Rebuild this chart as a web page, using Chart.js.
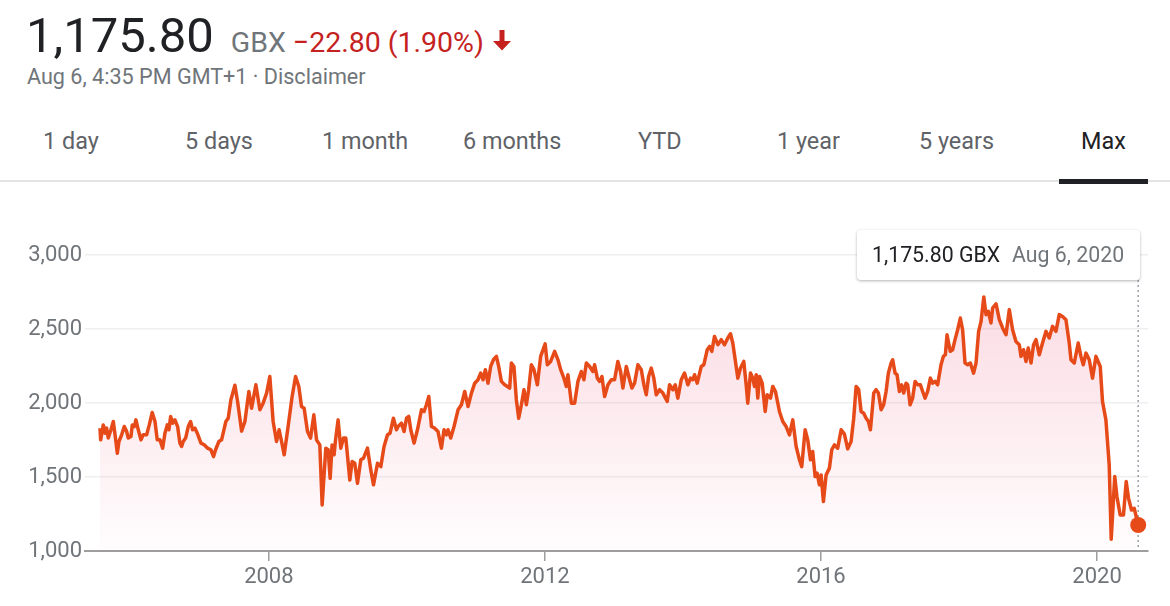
<!DOCTYPE html>
<html>
<head>
<meta charset="utf-8">
<script src="https://cdn.jsdelivr.net/npm/chart.js@4.4.0/dist/chart.umd.min.js"></script>
<style>
  body { margin: 0; width: 1170px; height: 606px; background: #fff; font-family: Roboto, Arial, sans-serif; position: relative; overflow: hidden; }
  .quote { position: absolute; left: 26px; top: 12px; display: flex; align-items: baseline; white-space: nowrap; }
  .quote .big { font-size: 49px; line-height: 48px; color: #202124; }
  .quote .unit { font-size: 28.5px; color: #70757a; margin-left: 17px; }
  .quote .chg { font-size: 28.5px; color: #c5221f; margin-left: 7px; }
  .quote svg { margin-left: 7px; align-self: center; margin-top: 8px; }
  .sub { position: absolute; left: 27px; top: 65px; font-size: 21.6px; line-height: 24px; color: #70757a; white-space: nowrap; }
  .tab { position: absolute; top: 127px; font-size: 23.4px; line-height: 28px; color: #5f6368; white-space: nowrap; }
  .tab.on { color: #202124; }
  .sep { position: absolute; left: 0; top: 180px; width: 1170px; height: 2px; background: #e3e3e3; }
  .bar { position: absolute; left: 1059px; top: 179px; width: 89px; height: 5px; background: #202124; }
  .wrap { position: absolute; left: 0; top: 190px; width: 1170px; height: 416px; }
  .tip { position: absolute; left: 857px; top: 230px; width: 283px; height: 50px; background: #fff; border-radius: 4px;
         box-shadow: 0 1px 3px rgba(0,0,0,0.3); box-sizing: border-box; padding-left: 15px; font-size: 21.3px; line-height: 50px; white-space: nowrap; }
  .tip .v { color: #202124; }
  .tip .d { color: #70757a; margin-left: 12px; }
</style>
</head>
<body>
<div class="quote">
  <span class="big">1,175.80</span><span class="unit">GBX</span><span class="chg">−22.80 (1.90%)</span>
  <svg width="22" height="24" viewBox="0 0 22 24"><path fill="#c5221f" d="M8.5 2h5v11h6.5l-9 9.5l-9-9.5h6.5z"/></svg>
</div>
<div class="sub">Aug 6, 4:35 PM GMT+1 · Disclaimer</div>

<span class="tab" style="left:43px">1 day</span>
<span class="tab" style="left:185px">5 days</span>
<span class="tab" style="left:322px">1 month</span>
<span class="tab" style="left:463px">6 months</span>
<span class="tab" style="left:638px">YTD</span>
<span class="tab" style="left:777px">1 year</span>
<span class="tab" style="left:919px">5 years</span>
<span class="tab on" style="left:1081px">Max</span>
<div class="sep"></div>
<div class="bar"></div>

<div class="wrap"><canvas id="priceChart" width="1170" height="416"></canvas></div>
<div class="tip"><span class="v">1,175.80 GBX</span><span class="d">Aug 6, 2020</span></div>

<script>
// dates as decimal years, prices in GBX
const dates = [
  2005.553, 2005.563, 2005.601, 2005.626, 2005.650, 2005.673, 2005.712, 2005.746, 2005.781, 2005.804,
  2005.828, 2005.867, 2005.905, 2005.940, 2005.963, 2006.002, 2006.021, 2006.050, 2006.074, 2006.108,
  2006.147, 2006.180, 2006.229, 2006.267, 2006.310, 2006.350, 2006.383, 2006.422, 2006.461, 2006.494,
  2006.528, 2006.552, 2006.577, 2006.606, 2006.639, 2006.678, 2006.711, 2006.736, 2006.759, 2006.794,
  2006.832, 2006.866, 2006.895, 2006.929, 2006.968, 2007.016, 2007.063, 2007.113, 2007.160, 2007.199,
  2007.228, 2007.276, 2007.315, 2007.349, 2007.377, 2007.411, 2007.450, 2007.508, 2007.547, 2007.605,
  2007.653, 2007.710, 2007.750, 2007.812, 2007.870, 2007.917, 2007.967, 2008.014, 2008.062, 2008.111,
  2008.149, 2008.184, 2008.222, 2008.279, 2008.337, 2008.387, 2008.434, 2008.473, 2008.511, 2008.560,
  2008.604, 2008.652, 2008.691, 2008.738, 2008.772, 2008.825, 2008.859, 2008.888, 2008.916, 2008.945,
  2008.966, 2009.003, 2009.042, 2009.082, 2009.115, 2009.173, 2009.206, 2009.245, 2009.284, 2009.332,
  2009.371, 2009.429, 2009.477, 2009.516, 2009.574, 2009.622, 2009.669, 2009.719, 2009.756, 2009.805,
  2009.849, 2009.872, 2009.921, 2009.959, 2009.994, 2010.027, 2010.056, 2010.104, 2010.153, 2010.211,
  2010.248, 2010.283, 2010.317, 2010.356, 2010.403, 2010.451, 2010.500, 2010.538, 2010.573, 2010.596,
  2010.635, 2010.683, 2010.741, 2010.790, 2010.838, 2010.886, 2010.935, 2010.983, 2011.030, 2011.069,
  2011.103, 2011.137, 2011.175, 2011.214, 2011.253, 2011.297, 2011.330, 2011.369, 2011.417, 2011.489,
  2011.514, 2011.551, 2011.586, 2011.620, 2011.659, 2011.696, 2011.731, 2011.764, 2011.803, 2011.841,
  2011.890, 2011.938, 2012.003, 2012.035, 2012.083, 2012.141, 2012.189, 2012.228, 2012.275, 2012.310,
  2012.333, 2012.383, 2012.430, 2012.478, 2012.527, 2012.565, 2012.600, 2012.648, 2012.695, 2012.720,
  2012.759, 2012.792, 2012.826, 2012.865, 2012.913, 2012.962, 2013.009, 2013.057, 2013.096, 2013.130,
  2013.179, 2013.227, 2013.260, 2013.299, 2013.347, 2013.396, 2013.434, 2013.468, 2013.502, 2013.541,
  2013.578, 2013.613, 2013.661, 2013.709, 2013.772, 2013.806, 2013.854, 2013.888, 2013.926, 2013.975,
  2014.023, 2014.071, 2014.110, 2014.143, 2014.168, 2014.207, 2014.265, 2014.302, 2014.352, 2014.385,
  2014.418, 2014.457, 2014.505, 2014.554, 2014.602, 2014.650, 2014.689, 2014.722, 2014.757, 2014.795,
  2014.834, 2014.881, 2014.916, 2014.939, 2014.978, 2015.012, 2015.036, 2015.061, 2015.084, 2015.109,
  2015.148, 2015.191, 2015.220, 2015.268, 2015.301, 2015.340, 2015.398, 2015.446, 2015.495, 2015.543,
  2015.591, 2015.640, 2015.688, 2015.721, 2015.770, 2015.808, 2015.847, 2015.880, 2015.915, 2015.944,
  2015.977, 2016.002, 2016.035, 2016.074, 2016.122, 2016.156, 2016.195, 2016.242, 2016.292, 2016.339,
  2016.387, 2016.436, 2016.474, 2016.509, 2016.546, 2016.581, 2016.619, 2016.654, 2016.687, 2016.716,
  2016.764, 2016.798, 2016.832, 2016.871, 2016.908, 2016.943, 2016.976, 2017.016, 2017.039, 2017.073,
  2017.102, 2017.136, 2017.169, 2017.198, 2017.233, 2017.256, 2017.291, 2017.328, 2017.363, 2017.401,
  2017.440, 2017.473, 2017.508, 2017.545, 2017.585, 2017.618, 2017.653, 2017.690, 2017.739, 2017.773,
  2017.802, 2017.826, 2017.849, 2017.874, 2017.907, 2017.942, 2017.980, 2018.019, 2018.052, 2018.087,
  2018.125, 2018.164, 2018.211, 2018.246, 2018.284, 2018.319, 2018.359, 2018.391, 2018.424, 2018.463,
  2018.487, 2018.536, 2018.584, 2018.631, 2018.681, 2018.728, 2018.776, 2018.825, 2018.873, 2018.898,
  2018.935, 2018.970, 2019.003, 2019.043, 2019.080, 2019.115, 2019.163, 2019.210, 2019.260, 2019.307,
  2019.355, 2019.404, 2019.452, 2019.500, 2019.549, 2019.597, 2019.622, 2019.669, 2019.727, 2019.766,
  2019.800, 2019.839, 2019.887, 2019.934, 2019.984, 2020.046, 2020.079, 2020.128, 2020.176, 2020.205,
  2020.256, 2020.288, 2020.335, 2020.383, 2020.422, 2020.456, 2020.499, 2020.538, 2020.596
];
const prices = [
  1830, 1751, 1852, 1796, 1830, 1763, 1819, 1875, 1751, 1661,
  1740, 1785, 1841, 1807, 1763, 1774, 1852, 1841, 1886, 1819,
  1751, 1785, 1785, 1852, 1936, 1875, 1751, 1751, 1695, 1796,
  1852, 1819, 1909, 1864, 1886, 1841, 1729, 1706, 1740, 1763,
  1841, 1875, 1819, 1830, 1790, 1729, 1718, 1695, 1684, 1638,
  1684, 1740, 1751, 1819, 1875, 1897, 2022, 2120, 2010, 1810,
  1875, 2078, 1965, 2123, 1954, 1999, 2067, 2179, 1875, 1740,
  1819, 1740, 1650, 1841, 2044, 2179, 2112, 1976, 1965, 1807,
  1763, 1920, 1751, 1717, 1311, 1695, 1684, 1491, 1717, 1650,
  1751, 1886, 1695, 1763, 1763, 1480, 1604, 1593, 1458, 1616,
  1627, 1695, 1548, 1447, 1593, 1570, 1706, 1785, 1796, 1897,
  1819, 1841, 1864, 1807, 1897, 1909, 1819, 1729, 1819, 1954,
  1943, 1988, 2044, 1841, 1830, 1807, 1695, 1819, 1785, 1819,
  1763, 1841, 1954, 1988, 2078, 1976, 2067, 2134, 2157, 2202,
  2157, 2225, 2134, 2247, 2292, 2315, 2247, 2146, 2123, 2101,
  2270, 2247, 2022, 1897, 1988, 2090, 1988, 2090, 2258, 2225,
  2123, 2315, 2400, 2258, 2281, 2349, 2292, 2225, 2168, 2112,
  2191, 1999, 1999, 2146, 2213, 2157, 2270, 2247, 2213, 2258,
  2168, 2146, 2179, 2044, 2123, 2157, 2157, 2281, 2213, 2101,
  2247, 2157, 2101, 2134, 2258, 2225, 2123, 2056, 2179, 2236,
  2168, 2056, 2090, 2067, 2010, 2123, 2090, 2123, 2033, 2157,
  2202, 2123, 2168, 2157, 2191, 2134, 2247, 2258, 2360, 2382,
  2349, 2450, 2394, 2428, 2394, 2439, 2468, 2405, 2292, 2168,
  2236, 2281, 2123, 1999, 2202, 2168, 2112, 2191, 2033, 2179,
  2134, 1943, 2056, 2033, 2112, 2078, 1943, 1875, 1841, 1785,
  1886, 1706, 1616, 1570, 1819, 1751, 1616, 1672, 1503, 1526,
  1447, 1514, 1334, 1514, 1560, 1684, 1717, 1695, 1819, 1790,
  1690, 1740, 1897, 2112, 2090, 1943, 1931, 1897, 1875, 1819,
  2067, 2090, 2067, 1954, 1988, 2078, 2202, 2270, 2292, 2202,
  2191, 2078, 2123, 2067, 2134, 2123, 1988, 2033, 2146, 2123,
  2123, 2078, 2033, 2078, 2168, 2134, 2146, 2123, 2258, 2315,
  2326, 2461, 2405, 2349, 2360, 2428, 2495, 2574, 2495, 2270,
  2258, 2270, 2202, 2270, 2484, 2551, 2716, 2597, 2620, 2541,
  2642, 2670, 2563, 2507, 2461, 2631, 2495, 2416, 2394, 2315,
  2360, 2281, 2371, 2270, 2394, 2428, 2326, 2405, 2484, 2439,
  2518, 2484, 2597, 2585, 2563, 2405, 2292, 2270, 2405, 2315,
  2258, 2337, 2292, 2168, 2315, 2247, 2010, 1886, 1580, 1080,
  1503, 1367, 1244, 1244, 1469, 1356, 1277, 1289, 1175.8
];
const yearTicks = [2008, 2012, 2016, 2020];
const priceTicks = [1000, 1500, 2000, 2500, 3000];

const lineColor = "#e64a19";
const lastIndex = prices.length - 1;

// dotted marker line through the last point, drawn under the line and dot
const markerLine = {
  id: "markerLine",
  beforeDatasetsDraw(chart) {
    const ctx = chart.ctx;
    const x = chart.scales.x.getPixelForValue(dates[lastIndex]);
    ctx.save();
    ctx.strokeStyle = "#9aa0a6";
    ctx.lineWidth = 1.5;
    ctx.setLineDash([2, 3]);
    ctx.beginPath();
    ctx.moveTo(x, 90);
    ctx.lineTo(x, chart.chartArea.bottom);
    ctx.stroke();
    ctx.restore();
  },
};

new Chart(document.getElementById("priceChart"), {
  type: "line",
  data: {
    datasets: [
      {
        data: dates.map((d, i) => ({ x: d, y: prices[i] })),
        borderColor: lineColor,
        borderWidth: 3.5,
        borderJoinStyle: "round",
        tension: 0,
        fill: "start",
        backgroundColor: (c) => {
          const area = c.chart.chartArea;
          if (!area) return "rgba(0,0,0,0)";
          const g = c.chart.ctx.createLinearGradient(0, area.top, 0, area.bottom);
          g.addColorStop(0, "rgba(232, 70, 110, 0.22)");
          g.addColorStop(1, "rgba(232, 70, 110, 0.01)");
          return g;
        },
        pointRadius: (c) => (c.dataIndex === lastIndex ? 8 : 0),
        pointBackgroundColor: lineColor,
        pointBorderWidth: 0,
        pointHoverRadius: 0,
      },
    ],
  },
  options: {
    responsive: false,
    animation: false,
    events: [],
    layout: { padding: { top: 65, right: 22, left: 0, bottom: 0 } },
    plugins: { legend: { display: false }, tooltip: { enabled: false } },
    scales: {
      x: {
        type: "linear",
        min: 2005.336,
        max: 2020.738,
        afterBuildTicks: (s) => { s.ticks = yearTicks.map((v) => ({ value: v })); },
        afterFit: (s) => { s.height = 55; },
        ticks: {
          callback: (v) => String(v),
          color: "#70757a",
          font: { family: "Roboto", size: 22 },
          padding: 3,
          maxRotation: 0,
        },
        grid: { drawOnChartArea: false, drawTicks: true, tickLength: 10, color: "#9e9e9e", lineWidth: 1.5 },
        border: { color: "#9e9e9e", width: 2 },
      },
      y: {
        min: 1000,
        max: 3000,
        afterBuildTicks: (s) => { s.ticks = priceTicks.map((v) => ({ value: v })); },
        afterFit: (s) => { s.width = 85; },
        ticks: {
          callback: (v) => v.toLocaleString("en-US"),
          color: "#70757a",
          font: { family: "Roboto", size: 22 },
          padding: 3,
        },
        grid: { color: "#efefef", lineWidth: 1.5, drawTicks: false },
        border: { display: false },
      },
    },
  },
  plugins: [markerLine],
});
</script>
</body>
</html>
